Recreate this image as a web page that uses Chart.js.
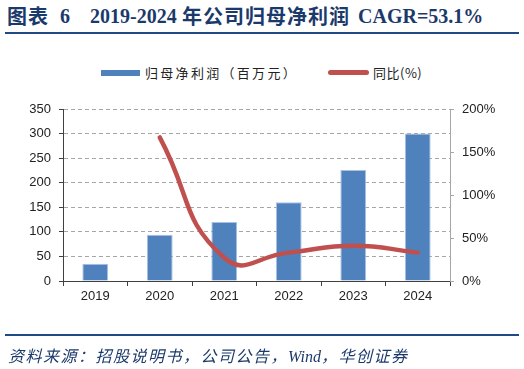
<!DOCTYPE html>
<html><head><meta charset="utf-8">
<script src="https://cdn.jsdelivr.net/npm/chart.js@4"></script>
<style>
html,body{margin:0;padding:0;background:#fff;width:524px;height:369px;overflow:hidden;position:relative;}
.t{position:absolute;top:3px;line-height:26px;font-size:20px;font-weight:bold;color:#1b3a6b;white-space:nowrap}
.ser{font-family:"Liberation Serif",serif}
.cn{font-family:"Noto Sans CJK SC",sans-serif}
.rule{position:absolute;left:5px;width:514px;height:2px;background:#1f4a86}
#src{position:absolute;left:8px;top:343px;font:italic 16px "Noto Sans CJK SC",sans-serif;color:#1b3a6b;white-space:nowrap;letter-spacing:1.5px}
#src .en{font-family:"Liberation Serif",serif;letter-spacing:0}
#legend{position:absolute;top:63px;left:0;width:524px;height:20px;font:13px "Noto Sans CJK SC",sans-serif;color:#222}
.lg{position:absolute;top:0;white-space:nowrap;line-height:20px}
.sw{position:absolute}
canvas{position:absolute;left:0;top:0}
</style></head><body>
<div class="t cn" style="left:7px;letter-spacing:1px">图表</div>
<div class="t ser" style="left:60px">6</div>
<div class="t ser" style="left:90px">2019-2024</div>
<div class="t cn" style="left:182px;letter-spacing:1px">年公司归母净利润</div>
<div class="t ser" style="left:358px">CAGR=53.1%</div>
<div class="rule" style="top:32px"></div>
<div id="legend">
  <div class="sw" style="left:101px;top:7px;width:39px;height:6px;background:#4f81bd"></div>
  <div class="lg" style="left:145px;letter-spacing:2.3px">归母净利润（百万元）</div>
  <div class="sw" style="left:328px;top:7px;width:41px;height:5px;background:#c0504d;border-radius:3px"></div>
  <div class="lg" style="left:373px;letter-spacing:0.5px">同比(%)</div>
</div>
<canvas id="c" width="524" height="369"></canvas>
<div class="rule" style="top:334px"></div>
<div id="src">资料来源：招股说明书，公司公告，<span class="en">Wind</span>，华创证券</div>
<script>
const categories = ["2019","2020","2021","2022","2023","2024"];
const profit = [35, 94, 120, 160, 226, 300];
const yoy = [null, 167, 27, 33, 41, 33];
const leftTicks = [0,50,100,150,200,250,300,350];
const rightTicks = [0,50,100,150,200];

new Chart(document.getElementById('c'), {
  data: {
    labels: categories,
    datasets: [
      { type:'line', label:'同比(%)', data:yoy, yAxisID:'y1', borderColor:'#c0504d', borderWidth:4.5,
        pointRadius:0, tension:0.5, borderCapStyle:'round', fill:false, spanGaps:false, order:0 },
      { type:'bar', label:'归母净利润（百万元）', data:profit, yAxisID:'y', backgroundColor:'#4f81bd',
        borderColor:'#a9c1e3', borderWidth:{left:1,right:1,top:1,bottom:0}, barPercentage:0.4, categoryPercentage:1, order:1 }
    ]
  },
  options: {
    responsive:false, animation:false, devicePixelRatio:1,
    layout:{padding:{left:0,right:0,top:109,bottom:0}},
    plugins:{legend:{display:false}, tooltip:{enabled:false}},
    scales:{
      x:{ grid:{display:true, drawOnChartArea:false, offset:true, tickLength:5, color:'#404040'},
          border:{color:'#404040', width:1},
          ticks:{color:'#222', font:{family:'Liberation Sans', size:13}, padding:3},
          afterFit(s){ s.height = 369-281; } },
      y:{ position:'left', min:0, max:350, afterBuildTicks(s){ s.ticks = leftTicks.map(v=>({value:v})); },
          grid:{color:'#a6a6a6', tickColor:'#404040', tickBorderDash:[], tickLength:4, lineWidth:1},
          border:{color:'#404040', dash:[4,3]},
          ticks:{color:'#222', font:{family:'Liberation Sans', size:13}, padding:8},
          afterFit(s){ s.width = 63; } },
      y1:{ position:'right', min:0, max:200, afterBuildTicks(s){ s.ticks = rightTicks.map(v=>({value:v})); },
          grid:{drawOnChartArea:false, tickLength:4, color:'#a6a6a6'},
          border:{color:'#a6a6a6'},
          ticks:{color:'#222', font:{family:'Liberation Sans', size:13}, padding:8, callback:v=>v+'%'},
          afterFit(s){ s.width = 74; } }
    }
  }
});
</script>
</body></html>
